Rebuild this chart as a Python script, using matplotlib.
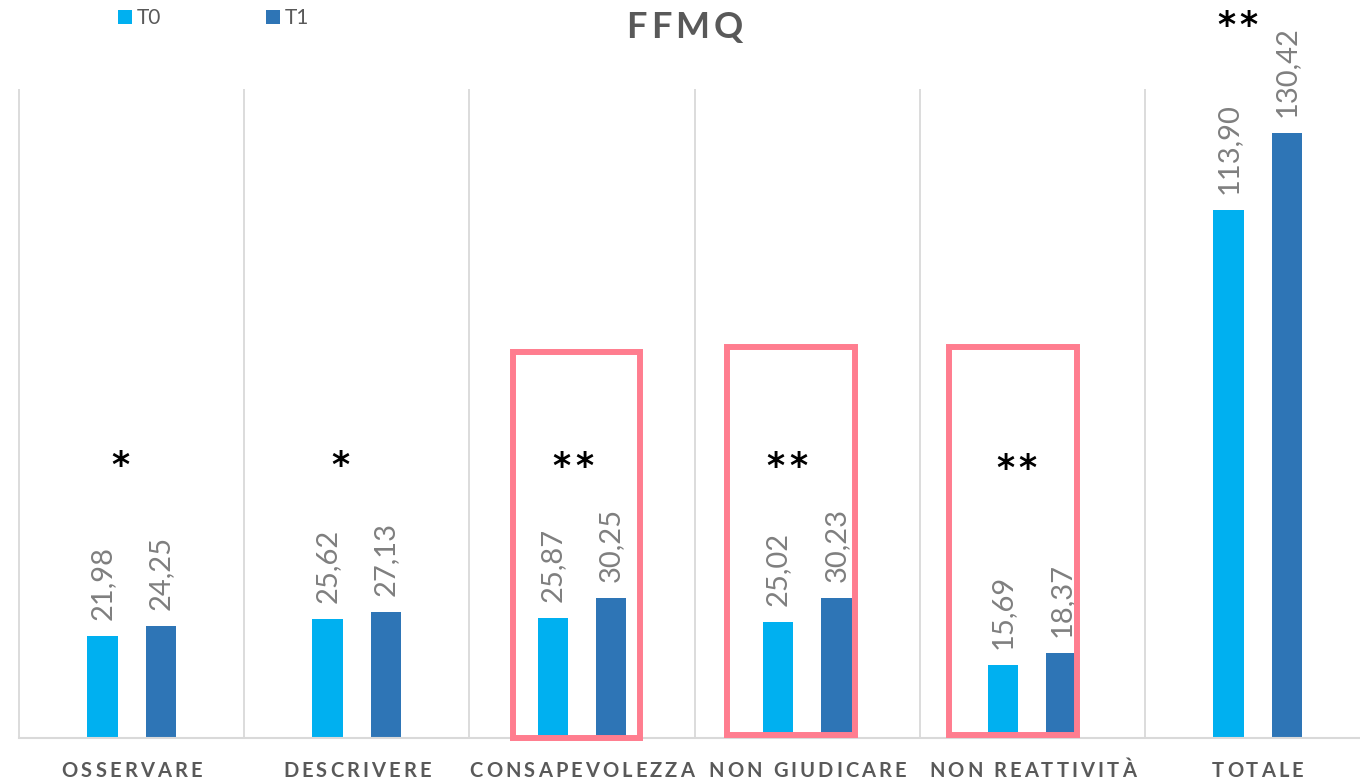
import numpy as np
import matplotlib
matplotlib.use("Agg")
import matplotlib.pyplot as plt
from matplotlib.patches import Rectangle
from matplotlib.transforms import ScaledTranslation, blended_transform_factory
from matplotlib.font_manager import FontProperties, findfont, get_font

# ---- data -------------------------------------------------------------
categories = ["OSSERVARE", "DESCRIVERE", "CONSAPEVOLEZZA", "NON GIUDICARE",
              "NON REATTIVITÀ", "TOTALE"]
t0 = [21.98, 25.62, 25.87, 25.02, 15.69, 113.90]
t1 = [24.25, 27.13, 30.25, 30.23, 18.37, 130.42]
significance = ["*", "*", "**", "**", "**", "**"]
series_names = ["T0", "T1"]
title = "FFMQ"

# ---- style ------------------------------------------------------------
C_T0 = "#00B0F0"
C_T1 = "#2E75B6"
C_BOX = "#FF7D8F"
C_GRID = "#D9D9D9"
C_TEXT = "#595959"
C_LABEL = "#7F7F7F"
FONT = "Lato"

W, H, DPI = 1360, 780, 100
fig = plt.figure(figsize=(W / DPI, H / DPI), dpi=DPI)

px_cat = 225.2            # pixels per category slot
x_lo, x_hi = -0.52, 5.5
left_px = 19 - 0.02 * px_cat
ax = fig.add_axes([left_px / W, 42 / H, (x_hi - x_lo) * px_cat / W, 649 / H])
ax.set_xlim(x_lo, x_hi)
ax.set_ylim(0, 140)


def tracked_text(x, y, s, size, weight, color, tracking, transform,
                 family=FONT, va="baseline", zorder=6):
    """Draw a string centred on (x, y) with extra letter spacing (points)."""
    fp = FontProperties(family=family, weight=weight, size=size)
    font = get_font(findfont(fp))
    font.set_size(size, 72)
    advs = [font.load_char(ord(c)).linearHoriAdvance / 65536 for c in s]
    total = sum(advs) + tracking * (len(s) - 1)
    pos = -total / 2
    for c, a in zip(s, advs):
        tr = transform + ScaledTranslation((pos + a / 2) / 72, 0, fig.dpi_scale_trans)
        fig.text(x, y, c, transform=tr, ha="center", va=va, fontproperties=fp,
                 color=color, zorder=zorder)
        pos += a + tracking


x = np.arange(len(categories))
bw, off = 0.135, 0.13
b0 = ax.bar(x - off, t0, bw, color=C_T0, label=series_names[0], zorder=2)
b1 = ax.bar(x + off, t1, bw, color=C_T1, label=series_names[1], zorder=2)


def fmt(v):
    return f"{v:.2f}".replace(".", ",")


for bars, vals in ((b0, t0), (b1, t1)):
    ax.bar_label(bars, labels=[fmt(v) for v in vals], rotation=90, padding=11.5,
                 color=C_LABEL, fontsize=21, family=FONT)

# axes cosmetics: vertical separators between categories, grey baseline
ax.set_axisbelow(True)
ax.set_xticks(x)
ax.set_xticklabels([])
ax.set_xticks(np.arange(-0.5, len(categories) + 0.5, 1), minor=True)
ax.tick_params(which="both", length=0)
ax.grid(True, which="minor", axis="x", color=C_GRID, lw=1.3)
ax.set_yticks([])
for side in ("top", "left", "right"):
    ax.spines[side].set_visible(False)
ax.spines["bottom"].set_color(C_GRID)
ax.spines["bottom"].set_linewidth(1.5)
ax.spines["bottom"].set_bounds(-0.5, x_hi)

# category labels, letter-spaced
cat_tr = blended_transform_factory(ax.transData, ax.transAxes) + \
    ScaledTranslation(0, -39 / DPI, fig.dpi_scale_trans)
for xi, name in zip(x, categories):
    tracked_text(xi, 0, name, 14.5, "bold", C_TEXT, 2.2, cat_tr)

# title
tracked_text(684.5 / W, 1 - 38 / H, title, 26, "bold", C_TEXT, 3.0, fig.transFigure)

# significance markers
star_dx = [-0.05, -0.075, -0.04, -0.09, -0.07, -0.09]
star_y = [56.6, 56.6, 56.2, 56.2, 55.8, 151.5]
for xi, s, dx, sy in zip(x, significance, star_dx, star_y):
    tracked_text(xi + dx, sy, s, 25, "heavy", "black", 3.0, ax.transData,
                 family="DejaVu Sans")

# highlighted subscales
boxes = [(1.694, 2.258, 0.0, 83.3), (2.642, 3.212, 0.65, 84.3),
         (3.630, 4.198, 0.65, 84.3)]
for xa, xb, yb, yt in boxes:
    ax.add_patch(Rectangle((xa, yb), xb - xa, yt - yb, fill=False, ec=C_BOX,
                           lw=4.3, joinstyle="miter", zorder=5, clip_on=False))

# legend
fig.legend(handles=[b0, b1], labels=series_names, loc="upper left",
           bbox_to_anchor=(118 / W, 1 - 8 / H), ncol=2, frameon=False,
           prop=FontProperties(family=FONT, size=15), labelcolor=C_TEXT,
           handlelength=0.68, handleheight=0.68, handletextpad=0.24,
           columnspacing=5.0, borderpad=0, borderaxespad=0)

fig.savefig("out.png", dpi=DPI, facecolor="white")
